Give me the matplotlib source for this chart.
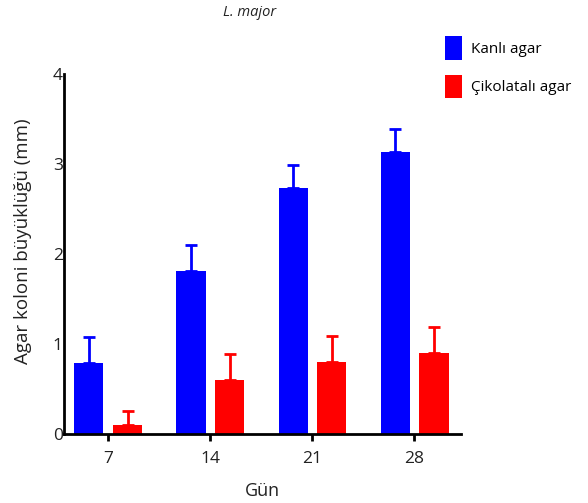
import matplotlib
matplotlib.use("Agg")
import matplotlib.pyplot as plt
import numpy as np

plt.rcParams["font.family"] = ["Open Sans", "DejaVu Sans"]

days = [7, 14, 21, 28]
day_labels = ["7", "14", "21", "28"]
kanli = [0.79, 1.81, 2.73, 3.13]
kanli_err = [0.29, 0.29, 0.26, 0.26]
cikolatali = [0.10, 0.60, 0.80, 0.90]
cikolatali_err = [0.16, 0.29, 0.29, 0.29]

BLUE = "#0000ff"
RED = "#ff0000"
INK = "#222222"

fig = plt.figure(figsize=(5.88, 5.03), dpi=100)
ax = fig.add_axes([0.109, 0.137, 0.675, 0.716])

x = np.array(days, float)
w = 2.0
zeros = np.zeros(len(days))
b1 = ax.bar(x - 1.3, kanli, w, color=BLUE, label="Kanlı agar", zorder=2)
b2 = ax.bar(x + 1.35, cikolatali, w, color=RED, label="Çikolatalı agar", zorder=2)
ax.errorbar(x - 1.3, kanli, yerr=[zeros, kanli_err], fmt="none", ecolor=BLUE,
            elinewidth=2, capsize=4.5, capthick=2, zorder=1)
ax.errorbar(x + 1.35, cikolatali, yerr=[zeros, cikolatali_err], fmt="none", ecolor=RED,
            elinewidth=2, capsize=4.5, capthick=2, zorder=1)

ax.set_xlim(4, 31.2)
ax.set_ylim(0, 4)
ax.set_xticks(x)
ax.set_xticklabels(day_labels)
ax.set_yticks([0, 1, 2, 3, 4])
ax.tick_params(axis="x", length=5, width=2, labelsize=12.5, pad=7, color="black",
               labelcolor=INK)
ax.tick_params(axis="y", length=0, labelsize=12.5, pad=1, labelcolor=INK)
for s in ("top", "right"):
    ax.spines[s].set_visible(False)
for s in ("left", "bottom"):
    ax.spines[s].set_linewidth(2)
    ax.spines[s].set_color("black")

ax.set_xlabel("Gün", fontsize=13, color=INK, labelpad=11)
ax.set_ylabel("Agar koloni büyüklüğü (mm)", fontsize=13.5, color=INK)
ax.yaxis.set_label_coords(-0.08, 0.535)
fig.text(0.424, 0.975, "L. major", ha="center", va="center", fontsize=10.5,
         style="italic", color=INK)

fig.legend(handles=[b1, b2], loc="upper left", bbox_to_anchor=(0.733, 0.955),
           frameon=False, handlelength=1.15, handleheight=2.0, labelspacing=0.95,
           handletextpad=0.6, fontsize=11)

fig.savefig("out.png", dpi=100)
